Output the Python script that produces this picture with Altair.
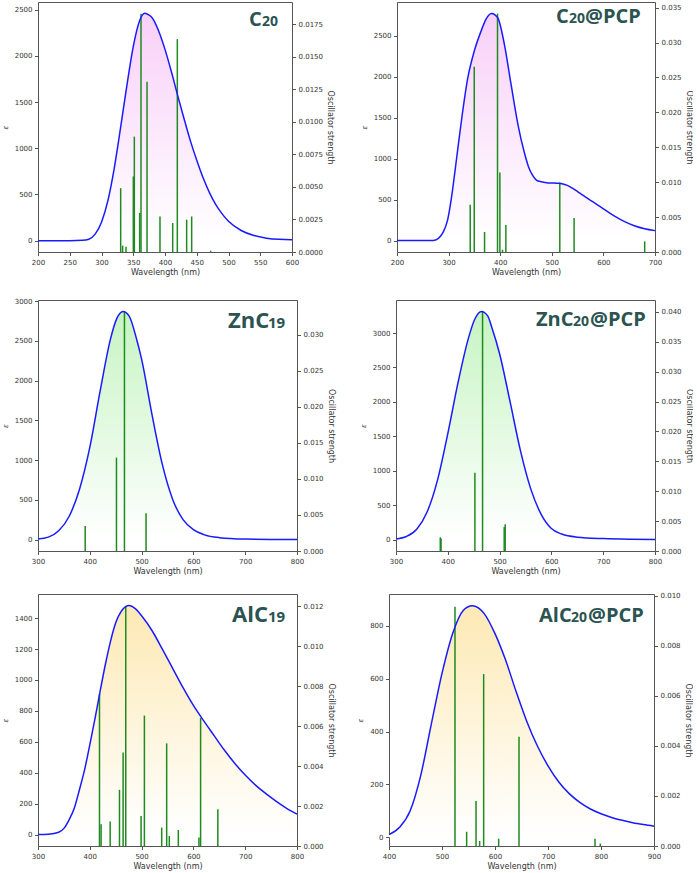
import altair as alt
import pandas as pd

# ---------------- spectra: curve (wavelength nm, epsilon) and sticks (wavelength nm, f) ----------------
c20_wl = [200, 250, 270, 280, 290, 300, 310, 320, 330, 340, 350, 360, 368, 375, 380, 390, 400, 410,
          420, 430, 440, 450, 460, 470, 480, 490, 500, 520, 540, 560, 580, 600]
c20_eps = [0, 0, 3, 15, 70, 200, 430, 780, 1220, 1680, 2100, 2380, 2460, 2440, 2410, 2270, 2070, 1830,
           1570, 1320, 1080, 870, 680, 520, 390, 290, 210, 110, 55, 27, 14, 10]
c20_stick_wl = [330.2, 333.3, 338.6, 350.1, 351.7, 360.1, 362.2, 371.7, 392.1, 412.1, 419.4, 434.1, 442.0, 471.9]
c20_stick_f = [0.0049, 0.00049, 0.00041, 0.0058, 0.00886, 0.0030, 0.0183, 0.01308, 0.00273, 0.00222,
               0.01635, 0.00248, 0.00273, 0.0001]

c20pcp_wl = [200, 265, 275, 285, 290, 298, 305, 312, 318, 325, 337, 350, 363, 372, 383, 395, 408, 421,
             434, 447, 455, 462, 470, 480, 490, 500, 510, 520, 530, 540, 550, 560, 570, 580, 590, 600, 620,
             640, 660, 680, 700]
c20pcp_eps = [0, 0, 8, 60, 110, 250, 500, 830, 1130, 1470, 1980, 2320, 2560, 2700, 2775, 2725, 2400, 1910,
              1430, 1070, 900, 805, 740, 718, 708, 704, 701, 695, 675, 640, 598, 555, 514, 472, 430, 388, 305,
              235, 182, 145, 122]
c20pcp_stick_wl = [341.9, 349.7, 369.7, 394.8, 399.4, 404.5, 411.0, 515.5, 543.2, 680.0]
c20pcp_stick_f = [0.00676, 0.02652, 0.00286, 0.03414, 0.01138, 0.00033, 0.00386, 0.00995, 0.00486, 0.00152]

znc19_wl = [300, 320, 340, 360, 380, 400, 420, 440, 452, 464, 476, 490, 500, 520, 540, 560, 580, 600,
            620, 650, 700, 750, 800]
znc19_eps = [6, 30, 110, 290, 630, 1160, 1870, 2525, 2780, 2870, 2810, 2530, 2270, 1575, 945, 505, 250, 125,
             62, 24, 6, 2, 1]
znc19_stick_wl = [391.1, 451.5, 466.9, 508.6]
znc19_stick_f = [0.00347, 0.01294, 0.0332, 0.00522]

znc20pcp_wl = [300, 320, 340, 360, 380, 400, 420, 440, 452, 465, 477, 485, 500, 520, 540, 560, 580, 600,
               620, 650, 700, 750, 800]
znc20pcp_eps = [10, 45, 150, 400, 860, 1540, 2290, 2930, 3200, 3314, 3250, 3080, 2700, 2010, 1300, 740, 370,
                160, 80, 35, 14, 5, 2]
znc20pcp_stick_wl = [385.5, 387.0, 452.3, 467.1, 508.9, 510.8]
znc20pcp_stick_f = [0.0023, 0.0021, 0.01311, 0.0400, 0.00402, 0.00446]

alc19_wl = [300, 320, 340, 350, 360, 370, 380, 390, 400, 410, 419, 430, 440, 450, 460, 475, 490, 500, 520,
            540, 560, 580, 600, 620, 640, 660, 680, 700, 720, 740, 760, 780, 800]
alc19_eps = [0, 2, 15, 40, 95, 170, 290, 420, 580, 750, 910, 1100, 1250, 1370, 1440, 1482, 1455, 1415, 1320,
             1200, 1075, 950, 835, 735, 640, 545, 460, 385, 320, 265, 215, 170, 132]
alc19_stick_wl = [418.7, 421.8, 439.3, 457.3, 464.3, 469.4, 499.0, 505.4, 538.8, 548.4, 553.5, 570.9,
                  610.7, 613.9, 647.2]
alc19_stick_f = [0.0076, 0.00109, 0.00122, 0.00281, 0.00468, 0.0120, 0.0015, 0.00652, 0.00092, 0.00513,
                 0.0005, 0.0008, 0.00042, 0.0064, 0.00184]

alc20pcp_wl = [400, 420, 440, 460, 480, 500, 520, 540, 557, 580, 600, 620, 640, 660, 680, 700, 720, 740,
               760, 780, 800, 820, 840, 860, 880, 900]
alc20pcp_eps = [10, 38, 100, 235, 430, 620, 770, 858, 876, 845, 770, 670, 550, 438, 345, 270, 210, 165,
                132, 107, 89, 75, 64, 55, 48, 42]
alc20pcp_stick_wl = [524.5, 546.5, 564.2, 571.0, 578.6, 606.9, 645.3, 788.7, 798.7]
alc20pcp_stick_f = [0.00956, 0.00057, 0.0018, 0.0002, 0.00687, 0.00029, 0.00437, 0.00029, 0.0001]

# panel labels: main text and the smaller numeric part
c20_label = ["C", "20"]
c20pcp_label = ["C", "20", "@PCP"]
znc19_label = ["ZnC", "19"]
znc20pcp_label = ["ZnC", "20", "@PCP"]
alc19_label = ["AlC", "19"]
alc20pcp_label = ["AlC", "20", "@PCP"]

# ---------------- styling ----------------
FONT = "DejaVu Sans"
LABEL_FONT = "Open Sans"
LABEL_COLOR = "#2b5451"
LINE_COLOR = "#1a1aff"
STICK_COLOR = "#1f8a1f"
FRAME = "#555555"
PINK = "#f8d0f8"
GREEN = "#c6f4c2"
YELLOW = "#fde9b4"


def gradient(top):
    return {
        "gradient": "linear",
        "x1": 0, "y1": 0, "x2": 0, "y2": 1,
        "stops": [{"offset": 0, "color": top}, {"offset": 1, "color": "#ffffff"}],
    }


def panel(wl, eps, stick_wl, stick_f, label, label_x, label_sizes, label_y, fill,
          x_dom, x_ticks, eps_dom, eps_ticks, f_dom, f_ticks, f_fmt, width, height):
    curve = pd.DataFrame({"wl": wl, "eps": eps})
    sticks = pd.DataFrame({"wl": stick_wl, "f": stick_f})

    x_enc = alt.X("wl:Q", title="Wavelength (nm)",
                  scale=alt.Scale(domain=x_dom, nice=False, zero=False),
                  axis=alt.Axis(values=x_ticks, format="d", labelFlush=False))
    eps_scale = alt.Scale(domain=eps_dom, nice=False, zero=False)

    area = alt.Chart(curve).mark_area(interpolate="monotone", color=gradient(fill)).encode(
        x=x_enc,
        y=alt.Y("eps:Q", title="ε", scale=eps_scale,
                axis=alt.Axis(orient="left", values=eps_ticks, format="d",
                              titleFontSize=7, titleFontStyle="italic", titlePadding=6)),
        y2=alt.datum(0),
    )
    bars = alt.Chart(sticks).mark_rule(color=STICK_COLOR, strokeWidth=1.5).encode(
        x=x_enc,
        y=alt.Y("f:Q", title="Oscillator strength",
                scale=alt.Scale(domain=f_dom, nice=False, zero=False),
                axis=alt.Axis(orient="right", values=f_ticks, format=f_fmt, titlePadding=3)),
        y2=alt.datum(0),
    )
    line = alt.Chart(curve).mark_line(color=LINE_COLOR, strokeWidth=1.5, interpolate="monotone").encode(
        x=x_enc,
        y=alt.Y("eps:Q", scale=eps_scale, axis=None),
    )
    texts = []
    for part, px, size in zip(label, label_x, label_sizes):
        texts.append(
            alt.Chart(pd.DataFrame({"t": [part]}))
            .mark_text(align="left", baseline="alphabetic", font=LABEL_FONT, fontWeight="bold",
                       fontSize=size, color=LABEL_COLOR, x=px, y=label_y)
            .encode(text="t:N")
        )
    return (
        alt.layer(area, bars, line, *texts)
        .resolve_scale(y="independent")
        .properties(width=width, height=height)
    )


p1 = panel(c20_wl, c20_eps, c20_stick_wl, c20_stick_f, c20_label, [211, 224], [20, 14], 24, PINK,
           [200, 600], list(range(200, 601, 50)), [-123, 2583], list(range(0, 2501, 500)),
           [0, 0.0192], [i * 0.0025 for i in range(8)], ".4f", 254, 250)
p2 = panel(c20pcp_wl, c20pcp_eps, c20pcp_stick_wl, c20pcp_stick_f, c20pcp_label, [159, 172, 188],
           [20, 14, 20], 21, PINK,
           [200, 700], list(range(200, 701, 100)), [-139, 2914], list(range(0, 2501, 500)),
           [0, 0.0358], [i * 0.005 for i in range(8)], ".3f", 258, 250)
p3 = panel(znc19_wl, znc19_eps, znc19_stick_wl, znc19_stick_f, znc19_label, [190, 230], [22, 15], 28,
           GREEN,
           [300, 800], list(range(300, 801, 100)), [-144, 3014], list(range(0, 3001, 500)),
           [0, 0.0348], [i * 0.005 for i in range(7)], ".3f", 259, 251)
p4 = panel(znc20pcp_wl, znc20pcp_eps, znc20pcp_stick_wl, znc20pcp_stick_f, znc20pcp_label,
           [140, 177, 194], [20, 14, 20], 26, GREEN,
           [300, 800], list(range(300, 801, 100)), [-166, 3480], list(range(0, 3001, 500)),
           [0, 0.042], [i * 0.005 for i in range(9)], ".3f", 259, 251)
p5 = panel(alc19_wl, alc19_eps, alc19_stick_wl, alc19_stick_f, alc19_label, [194, 230], [22, 15], 28,
           YELLOW,
           [300, 800], list(range(300, 801, 100)), [-74, 1556], list(range(0, 1401, 200)),
           [0, 0.0126], [i * 0.002 for i in range(7)], ".3f", 259, 252)
p6 = panel(alc20pcp_wl, alc20pcp_eps, alc20pcp_stick_wl, alc20pcp_stick_f, alc20pcp_label,
           [150, 182, 199], [20, 14, 20], 28, YELLOW,
           [400, 900], list(range(400, 901, 100)), [-33, 920], list(range(0, 801, 200)),
           [0, 0.01007], [i * 0.002 for i in range(6)], ".3f", 265, 252)

row1 = alt.hconcat(p1, p2, spacing=105, bounds="flush")
row2 = alt.hconcat(p3, p4, spacing=99, bounds="flush")
row3 = alt.hconcat(p5, p6, spacing=92, bounds="flush")

chart = (
    alt.vconcat(row1, alt.vconcat(row2, row3, spacing=15), spacing=19)
    .properties(padding={"left": 0, "top": 1, "right": 0, "bottom": 0})
    .configure_view(stroke=FRAME, strokeWidth=1)
    .configure_axis(
        labelFont=FONT, labelFontSize=7, labelColor="#333333",
        titleFont=FONT, titleFontSize=8, titleFontWeight="normal", titleColor="#333333",
        tickColor=FRAME, tickSize=3.5, domain=False, grid=False,
        labelPadding=2.5, titlePadding=3,
    )
)

chart.save("out.html", embed_options={"renderer": "svg", "actions": False})
